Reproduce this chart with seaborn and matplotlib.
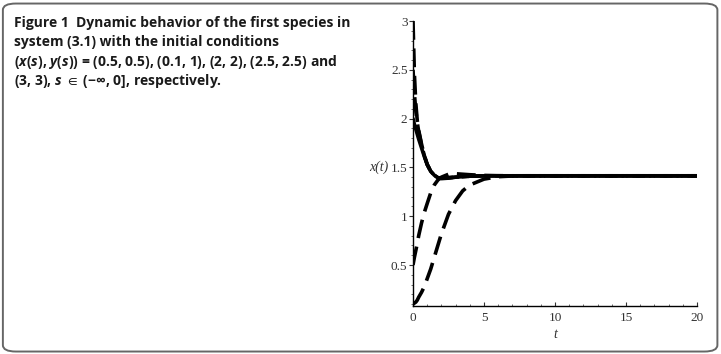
import numpy as np
import matplotlib
matplotlib.use("Agg")
import matplotlib.pyplot as plt
import pandas as pd
import seaborn as sns
from matplotlib.patches import FancyBboxPatch
from matplotlib.ticker import MultipleLocator, FormatStrFormatter

# time points
t_vals = [0, 0.1, 0.2, 0.3, 0.4, 0.6, 0.8, 1.0, 1.25, 1.5, 1.75, 2.0, 2.5,
          3.0, 3.5, 4.0, 5.0, 6.0, 7.0, 8.0, 10, 12, 15, 20]

# x(t) for each initial condition
x_from_3 = [3.0, 2.45, 2.15, 1.98, 1.88, 1.74, 1.62, 1.53, 1.46, 1.42, 1.395,
            1.39, 1.395, 1.40, 1.405, 1.41, 1.413, 1.414, 1.414, 1.414,
            1.414, 1.414, 1.414, 1.414]
x_from_25 = [2.5, 2.25, 2.08, 1.96, 1.87, 1.73, 1.62, 1.53, 1.46, 1.42, 1.395,
             1.39, 1.395, 1.40, 1.405, 1.41, 1.413, 1.414, 1.414, 1.414,
             1.414, 1.414, 1.414, 1.414]
x_from_2 = [2.0, 1.94, 1.89, 1.84, 1.79, 1.70, 1.61, 1.53, 1.46, 1.42, 1.395,
            1.385, 1.39, 1.40, 1.405, 1.41, 1.413, 1.414, 1.414, 1.414,
            1.414, 1.414, 1.414, 1.414]
x_from_05 = [0.5, 0.58, 0.65, 0.72, 0.80, 0.93, 1.04, 1.13, 1.24, 1.32, 1.37,
             1.40, 1.43, 1.435, 1.43, 1.425, 1.418, 1.415, 1.414, 1.414,
             1.414, 1.414, 1.414, 1.414]
x_from_01 = [0.1, 0.11, 0.12, 0.14, 0.17, 0.22, 0.28, 0.36, 0.46, 0.58, 0.70,
             0.82, 1.02, 1.16, 1.26, 1.32, 1.38, 1.405, 1.412, 1.414, 1.414,
             1.414, 1.414, 1.414]

curve_names = ["3", "2.5", "2", "0.5", "0.1"]
curve_values = [x_from_3, x_from_25, x_from_2, x_from_05, x_from_01]

caption_lines = [
    "Figure 1  Dynamic behavior of the first species in",
    "system (3.1) with the initial conditions",
    "($x$($s$), $y$($s$)) = (0.5, 0.5), (0.1, 1), (2, 2), (2.5, 2.5) and",
    "(3, 3), $s$ $\\in$ (\u2212\u221e, 0], respectively.",
]

df = pd.concat([pd.DataFrame({"t": t_vals, "x": v, "curve": n})
                for n, v in zip(curve_names, curve_values)],
               ignore_index=True)

sns.set_style("white")
plt.rcParams['font.family'] = ['Open Sans', 'DejaVu Sans']
plt.rcParams['mathtext.fontset'] = 'custom'
plt.rcParams['mathtext.it'] = 'Open Sans:italic:bold'
plt.rcParams['mathtext.rm'] = 'Open Sans:bold'
plt.rcParams['mathtext.fallback'] = 'stixsans'

fig = plt.figure(figsize=(7.21, 3.54), dpi=100)

# rounded frame around the whole figure
frame = FancyBboxPatch((0.004, 0.007), 0.991, 0.983,
                       boxstyle="round,pad=0,rounding_size=0.018",
                       transform=fig.transFigure, facecolor="none",
                       edgecolor="#666666", linewidth=1.4)
fig.patches.append(frame)

for i, line in enumerate(caption_lines):
    fig.text(0.019, 1 - (23 + i * 19.3) / 354, line, fontsize=10,
             fontweight="bold", va="center", ha="left", color="#1a1a1a")

ax = fig.add_axes([413 / 721, 1 - 306 / 354, 284 / 721, 285 / 354])
dash_map = {"3": (5.2, 2.4), "2.5": (5.2, 2.4), "2": "",
            "0.5": (5.2, 2.4), "0.1": (5.2, 2.4)}
sns.lineplot(data=df, x="t", y="x", hue="curve", style="curve",
             palette=["black"] * 5, dashes=dash_map, linewidth=2.6,
             legend=False, ax=ax, sort=False)

ax.set_xlim(0, 20)
ax.set_ylim(0.08, 3)
ax.xaxis.set_major_locator(MultipleLocator(5))
ax.xaxis.set_minor_locator(MultipleLocator(1))
ax.yaxis.set_major_locator(MultipleLocator(0.5))
ax.yaxis.set_minor_locator(MultipleLocator(0.1))
ax.yaxis.set_major_formatter(FormatStrFormatter("%g"))
ax.xaxis.set_major_formatter(FormatStrFormatter("%g"))
for side in ["top", "right"]:
    ax.spines[side].set_visible(False)
for side in ["left", "bottom"]:
    ax.spines[side].set_color("black")
    ax.spines[side].set_linewidth(1.0)
ax.tick_params(axis="y", which="major", direction="out", length=3, width=0.8,
               colors="#333333", labelsize=9.5, pad=1, left=True)
ax.tick_params(axis="x", which="major", direction="in", length=3, width=0.8,
               colors="#333333", labelsize=9.5, pad=4, bottom=True)
ax.tick_params(axis="y", which="minor", direction="out", length=1.5,
               width=0.6, colors="#555555", left=True)
ax.tick_params(axis="x", which="minor", direction="in", length=1.5,
               width=0.6, colors="#555555", bottom=True)
for lab in ax.get_xticklabels() + ax.get_yticklabels():
    lab.set_family("Liberation Serif")

ax.set_xlabel("t", fontsize=10, family="Liberation Serif", style="italic",
              color="#333333", labelpad=3)
ax.set_ylabel("x(t)", fontsize=10, family="Liberation Serif", style="italic",
              color="#333333", rotation=0, va="center", ha="right")
ax.yaxis.set_label_coords(-0.085, (1.5 - 0.08) / (3 - 0.08))
ax.patch.set_alpha(0)

fig.savefig("out.png", dpi=100)
